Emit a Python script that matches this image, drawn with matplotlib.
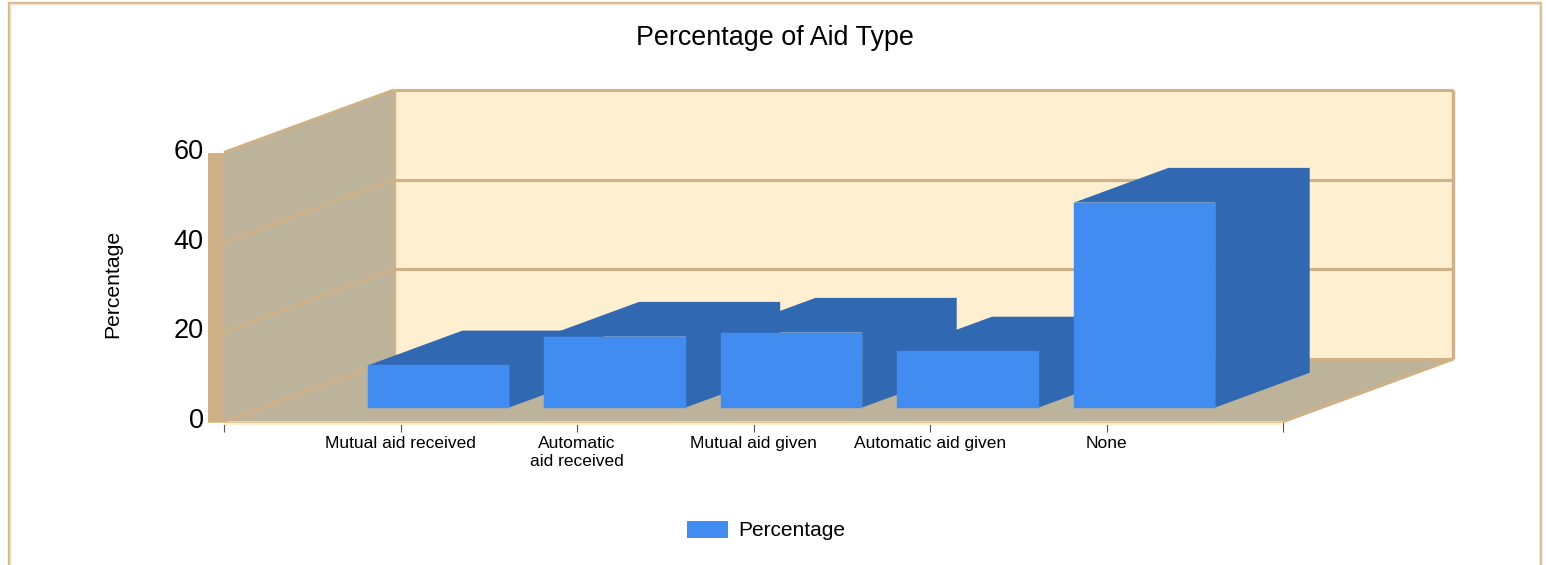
import matplotlib
matplotlib.use("Agg")
import matplotlib.pyplot as plt
from matplotlib.patches import Polygon, Patch, Rectangle
from matplotlib.lines import Line2D
from matplotlib.transforms import ScaledTranslation

plt.rcParams['font.family'] = ['Liberation Sans', 'DejaVu Sans']

title = "Percentage of Aid Type"
y_label = "Percentage"
categories = ["Mutual aid received", "Automatic\naid received", "Mutual aid given",
              "Automatic aid given", "None"]
values = [9.4, 15.8, 16.7, 12.5, 45.7]
y_ticks = [0, 20, 40, 60]

W, H = 1546, 565
fig = plt.figure(figsize=(W / 100, H / 100), dpi=100, facecolor="white")
AX_L, AX_R, AX_T, AX_B = 224, 1283, 152.5, 421.5
ax = fig.add_axes([AX_L / W, 1 - AX_B / H, (AX_R - AX_L) / W, (AX_B - AX_T) / H])
ax.set_xlim(0, 6)
ax.set_ylim(0, 60)
ax.patch.set_visible(False)
for s in ax.spines.values():
    s.set_visible(False)

TAN = "#CFB187"
WALL = "#BDB29A"
BACK = "#FEEFD0"
FRONT = "#418CF0"
SIDE = "#3068B2"

# oblique projection: depth d in 0..1 moves a point back and up
px_x = (AX_R - AX_L) / 6
px_y = (AX_B - AX_T) / 60
DX = 170 / px_x
DY = 62.5 / px_y


def P(x, y, d=0.0):
    return (x + d * DX, y + d * DY)


def poly(pts, fc, ec="none", lw=0, z=1):
    ax.add_patch(Polygon(pts, closed=True, facecolor=fc, edgecolor=ec, linewidth=lw,
                         zorder=z, clip_on=False, joinstyle="miter"))


def seg(a, b, color=TAN, lw=2.2, z=2):
    ax.add_line(Line2D([a[0], b[0]], [a[1], b[1]], color=color, lw=lw, zorder=z,
                       clip_on=False, solid_capstyle="butt"))


# back wall, left wall, floor
poly([P(0, 0, 1), P(6, 0, 1), P(6, 60, 1), P(0, 60, 1)], BACK, z=1)
poly([P(0, 0, 0), P(0, 0, 1), P(0, 60, 1), P(0, 60, 0)], WALL, z=1)
poly([P(0, 0, 0), P(6, 0, 0), P(6, 0, 1), P(0, 0, 1)], WALL, z=1)

# grid lines on both walls
for v in y_ticks:
    seg(P(0, v, 0), P(0, v, 1))
    seg(P(0, v, 1), P(6, v, 1))
seg(P(0, 0, 1), P(0, 60, 1), lw=2.4)
seg(P(6, 0, 1), P(6, 60, 1), lw=2.4)
seg(P(6, 0, 0), P(6, 0, 1), lw=2.4)

# thick left and bottom strips of the front plane
strip = 16 / px_x
ax.add_patch(Rectangle((-strip, 0), strip, 60, facecolor=TAN, edgecolor="none",
                       zorder=3, clip_on=False))
ax.add_patch(Rectangle((-strip, -1.5 / px_y), 6 + strip, 1.5 / px_y, facecolor="#E2C398",
                       edgecolor="none", zorder=3, clip_on=False))
ax.add_patch(Rectangle((0, -3 / px_y), 6, 1.5 / px_y, facecolor=BACK,
                       edgecolor="none", zorder=3, clip_on=False))

# bars: top and side share one outline so no seam shows between them
BAR_W = 0.8
D0, D1 = 0.224, 0.78
for i, v in enumerate(values):
    x0, x1 = i + 1 - BAR_W / 2, i + 1 + BAR_W / 2
    z = 5 + i
    poly([P(x0, v, D0), P(x0, v, D1), P(x1, v, D1), P(x1, 0, D1), P(x1, 0, D0), P(x1, v, D0)],
         SIDE, z=z)
    poly([P(x0, 0, D0), P(x1, 0, D0), P(x1, v, D0), P(x0, v, D0)], FRONT, FRONT, 0.3, z=z + 0.5)

# axes ticks and labels
ax.set_xticks(range(0, 7))
ax.set_xticklabels([""] + categories + [""], fontsize=12.5, linespacing=1.2)
ax.tick_params(axis="x", length=7, width=0.8, color="#555555", pad=3.7, top=False)
ax.set_yticks(y_ticks)
ax.set_yticklabels([str(v) for v in y_ticks], fontsize=19.5)
ax.tick_params(axis="y", length=0, pad=14.5)
shift = ScaledTranslation(0, 3.5 / 100, fig.dpi_scale_trans)
for lab in ax.get_yticklabels():
    lab.set_transform(lab.get_transform() + shift)

fig.text(113 / W, 1 - 284 / H, y_label, rotation=90, ha="center", va="center", fontsize=15.2)
fig.text(775 / W, 1 - 38 / H, title, ha="center", va="center", fontsize=19.4)

fig.legend(handles=[Patch(facecolor=FRONT, edgecolor="none", label=y_label)],
           loc="center", bbox_to_anchor=(766 / W, 1 - 530.5 / H), frameon=False,
           fontsize=15, handlelength=1.95, handleheight=0.9, handletextpad=0.48)


# outer frame, open at the bottom
def frame(xs, ys, color, lw):
    fig.add_artist(Line2D([x / W for x in xs], [1 - y / H for y in ys], color=color, lw=lw,
                          transform=fig.transFigure, solid_capstyle="butt",
                          solid_joinstyle="miter"))


frame([10.5, 10.5, 1540, 1540], [565, 5, 5, 565], "#FBEFDC", 1.2)
frame([9, 9, 1541, 1541], [565, 3, 3, 565], "#D9BC92", 1.7)

fig.savefig("out.png", dpi=100, facecolor="white")
